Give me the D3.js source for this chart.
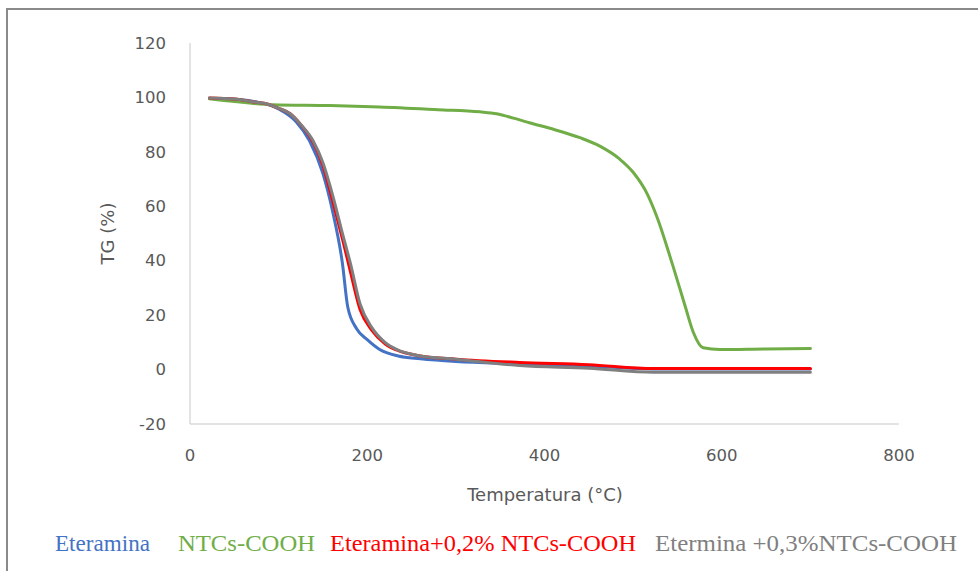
<!DOCTYPE html>
<html>
<head>
<meta charset="utf-8">
<script src="https://cdn.jsdelivr.net/npm/d3@7"></script>
<style>
  body { margin: 0; background: #fff; }
  .tick-label { font-family: "DejaVu Sans", sans-serif; font-size: 16.5px; fill: #595959; }
  .axis-title { font-family: "DejaVu Sans", sans-serif; font-size: 18px; fill: #595959; }
  .legend-text { font-family: "Liberation Serif", "Times New Roman", serif; font-size: 23px; }
</style>
</head>
<body>
<div id="chart"></div>
<script>
// temperature (°C) and TG (%)
const tempEteramina = [22, 50, 75, 100, 120, 135, 150, 161, 172, 178, 188, 200, 214, 235, 260, 300, 370, 450, 523, 600, 700];
const tgEteramina   = [99.6, 99.3, 98.3, 95.8, 91, 84, 72, 58, 39, 23, 15, 11, 7.4, 5, 4, 3, 2.2, 1.3, 0.2, 0.2, 0.2];

const tempNtcs = [22, 50, 94, 158, 214, 280, 327, 346, 365, 384, 410, 440, 463, 485, 500, 516, 527, 545, 559, 568, 579, 598, 650, 700];
const tgNtcs   = [99.5, 98.5, 97.3, 97, 96.5, 95.5, 94.7, 94, 92.4, 90.6, 88.3, 85.2, 82, 77.3, 72.5, 64.5, 56, 38, 23, 13.6, 8, 7.4, 7.6, 7.7];

const tempMix = [22, 50, 75, 87, 100, 113, 125, 139, 150, 161, 172, 181, 192, 205, 220, 233, 260, 300, 372, 450, 523, 600, 700];
const tgMix02 = [99.8, 99.4, 98.2, 97.6, 96, 94, 90, 83.5, 75, 62, 48, 36, 22, 14.5, 9.5, 7.2, 5, 3.8, 2.6, 1.8, 0.4, 0.4, 0.4];
const tgMix03 = [99.8, 99.4, 98.2, 97.6, 96, 94, 90, 84, 76, 64, 50, 39, 24, 15.5, 10, 7.4, 5, 3.8, 1.5, 0.5, -1, -1, -1];

const xTicks = [0, 200, 400, 600, 800];
const yTicks = [-20, 0, 20, 40, 60, 80, 100, 120];

const seriesNames  = ["Eteramina", "NTCs-COOH", "Eteramina+0,2% NTCs-COOH", "Etermina +0,3%NTCs-COOH"];
const seriesColors = ["#4472C4", "#70AD47", "#FF0000", "#7F7F7F"];

const series = [
    { temps: tempEteramina, values: tgEteramina },
    { temps: tempNtcs, values: tgNtcs },
    { temps: tempMix, values: tgMix02 },
    { temps: tempMix, values: tgMix03 }
];

const width = 978, height = 571;
const margin = { top: 43, right: 79, bottom: 147, left: 190 };

const svg = d3.select("#chart").append("svg")
    .attr("width", width)
    .attr("height", height);

// frame of the pasted picture
svg.append("path")
    .attr("d", "M7,571 V9 H978")
    .attr("fill", "none")
    .attr("stroke", "#8a8a8a")
    .attr("stroke-width", 2);

const x = d3.scaleLinear()
    .domain([0, 800])
    .range([margin.left, width - margin.right]);

const y = d3.scaleLinear()
    .domain([-20, 120])
    .range([height - margin.bottom, margin.top]);

// axis lines
svg.append("line")
    .attr("x1", x(0)).attr("x2", x(0))
    .attr("y1", y(120)).attr("y2", y(-20))
    .attr("stroke", "#c8c8c8").attr("stroke-width", 1);

svg.append("line")
    .attr("x1", x(0)).attr("x2", x(800))
    .attr("y1", y(-20)).attr("y2", y(-20))
    .attr("stroke", "#c8c8c8").attr("stroke-width", 1);

// tick labels
svg.selectAll(".y-label")
    .data(yTicks)
    .enter().append("text")
    .attr("class", "tick-label")
    .attr("x", x(0) - 24)
    .attr("y", d => y(d))
    .attr("dy", "0.35em")
    .attr("text-anchor", "end")
    .text(d => d);

svg.selectAll(".x-label")
    .data(xTicks)
    .enter().append("text")
    .attr("class", "tick-label")
    .attr("x", d => x(d))
    .attr("y", y(-20) + 31)
    .attr("dy", "0.35em")
    .attr("text-anchor", "middle")
    .text(d => d);

// axis titles
svg.append("text")
    .attr("class", "axis-title")
    .attr("transform", "translate(108," + ((y(120) + y(-20)) / 2) + ") rotate(-90)")
    .attr("text-anchor", "middle")
    .attr("dy", "0.35em")
    .text("TG (%)");

svg.append("text")
    .attr("class", "axis-title")
    .attr("x", 545)
    .attr("y", 495)
    .attr("dy", "0.35em")
    .attr("text-anchor", "middle")
    .text("Temperatura (°C)");

// curves
const line = d3.line()
    .curve(d3.curveMonotoneX)
    .x(d => x(d[0]))
    .y(d => y(d[1]));

series.forEach(function(s, i) {
    svg.append("path")
        .datum(d3.zip(s.temps, s.values))
        .attr("fill", "none")
        .attr("stroke", seriesColors[i])
        .attr("stroke-width", 3)
        .attr("stroke-linejoin", "round")
        .attr("stroke-linecap", "round")
        .attr("d", line);
});

// legend
const legendX = [55, 178, 330, 655];
const legendW = [95, 137, 306, 302];
svg.selectAll(".legend-text")
    .data(seriesNames)
    .enter().append("text")
    .attr("class", "legend-text")
    .attr("x", (d, i) => legendX[i])
    .attr("y", 551)
    .attr("textLength", (d, i) => legendW[i])
    .attr("lengthAdjust", "spacingAndGlyphs")
    .attr("fill", (d, i) => seriesColors[i])
    .text(d => d);
</script>
</body>
</html>
